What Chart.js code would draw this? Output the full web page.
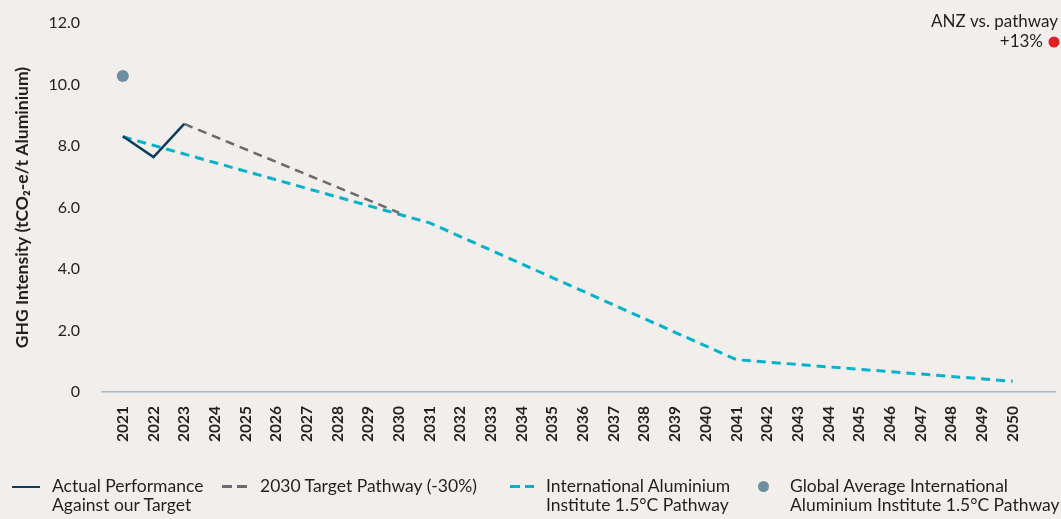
<!DOCTYPE html>
<html>
<head>
<meta charset="utf-8">
<script src="https://cdn.jsdelivr.net/npm/chart.js@4.4.1/dist/chart.umd.min.js"></script>
<style>
  html, body { margin: 0; padding: 0; background: #f1eeeb; }
  #wrap { position: relative; width: 1061px; height: 519px; overflow: hidden; font-family: Lato, "Open Sans", sans-serif; color: #231f20; }
  canvas { position: absolute; left: 0; top: 0; }
  .leg { position: absolute; top: 476px; font-size: 17.5px; line-height: 19px; white-space: nowrap; }
  .sym { position: absolute; }
</style>
</head>
<body>
<div id="wrap">
  <canvas id="c" width="1061" height="519"></canvas>
  <div class="sym" style="left:12px;top:486px;width:28px;height:2px;background:#0b3d5c"></div>
  <div class="leg" style="left:52px">Actual Performance<br>Against our Target</div>
  <div class="sym" style="left:222px;top:485px;width:10px;height:3px;background:#6b6a6e"></div>
  <div class="sym" style="left:237px;top:485px;width:10px;height:3px;background:#6b6a6e"></div>
  <div class="leg" style="left:260px">2030 Target Pathway (-30%)</div>
  <div class="sym" style="left:510px;top:485px;width:10px;height:3px;background:#00b3cb"></div>
  <div class="sym" style="left:525px;top:485px;width:9px;height:3px;background:#00b3cb"></div>
  <div class="leg" style="left:546px">International Aluminium<br>Institute 1.5°C Pathway</div>
  <div class="sym" style="left:758px;top:481px;width:11px;height:11px;border-radius:50%;background:#6e8ea1"></div>
  <div class="leg" style="left:790px">Global Average International<br>Aluminium Institute 1.5°C Pathway</div>
</div>
<script>
// ---- data ----
const years = [2021,2022,2023,2024,2025,2026,2027,2028,2029,2030,2031,2032,2033,2034,2035,2036,2037,2038,2039,2040,2041,2042,2043,2044,2045,2046,2047,2048,2049,2050];
const actualYears = [2021, 2022, 2023];
const actualValues = [8.32, 7.64, 8.72];
const targetYears = [2023, 2030];
const targetValues = [8.72, 5.83];
const iaiYears = [2021, 2031, 2041, 2050];
const iaiValues = [8.3, 5.5, 1.05, 0.35];
const globalYears = [2021];
const globalValues = [10.28];
const yTicks = [0, 2, 4, 6, 8, 10, 12];
const annotationLines = ['ANZ vs. pathway', '+13%'];

const pts = (xs, ys) => xs.map((x, i) => ({ x: x, y: ys[i] }));

const annotate = {
  id: 'annotate',
  afterDraw(chart) {
    const ctx = chart.ctx;
    ctx.save();
    ctx.font = '17px Lato, "Open Sans", sans-serif';
    ctx.fillStyle = '#231f20';
    ctx.textAlign = 'right';
    ctx.textBaseline = 'middle';
    ctx.fillText(annotationLines[0], 1058, 22);
    ctx.fillText(annotationLines[1], 1043, 42);
    ctx.beginPath();
    ctx.arc(1054, 42, 5.5, 0, Math.PI * 2);
    ctx.fillStyle = '#e31e24';
    ctx.fill();
    ctx.restore();
  }
};

new Chart(document.getElementById('c'), {
  type: 'line',
  data: {
    datasets: [
      { label: 'Actual Performance Against our Target', data: pts(actualYears, actualValues), borderColor: '#0b3d5c', borderWidth: 2.5, pointRadius: 0, tension: 0 },
      { label: '2030 Target Pathway (-30%)', data: pts(targetYears, targetValues), borderColor: '#6b6a6e', borderWidth: 2.5, borderDash: [9, 6], pointRadius: 0, tension: 0 },
      { label: 'International Aluminium Institute 1.5°C Pathway', data: pts(iaiYears, iaiValues), borderColor: '#00b3cb', borderWidth: 3, borderDash: [9, 6], pointRadius: 0, tension: 0 },
      { label: 'Global Average International Aluminium Institute 1.5°C Pathway', data: pts(globalYears, globalValues), showLine: false, pointRadius: 6, pointBackgroundColor: '#6e8ea1', pointBorderWidth: 0, borderColor: '#6e8ea1' }
    ]
  },
  options: {
    responsive: false,
    animation: false,
    layout: { padding: { top: 23, left: 0, right: 0, bottom: 0 } },
    plugins: { legend: { display: false }, tooltip: { enabled: false } },
    scales: {
      x: {
        type: 'linear',
        min: 2020.321,
        max: 2051.38,
        afterBuildTicks: (s) => { s.ticks = years.map(v => ({ value: v })); },
        afterFit: (s) => { s.height = 127; s.paddingLeft = 0; s.paddingRight = 0; },
        grid: { display: false, drawTicks: false },
        border: { display: true, color: '#a9bccb', width: 1.5 },
        ticks: {
          autoSkip: false, maxRotation: 90, minRotation: 90, padding: 14,
          color: '#231f20',
          font: { family: 'Lato, "Open Sans", sans-serif', size: 15.5, weight: 'bold' },
          callback: (v) => String(v)
        }
      },
      y: {
        min: 0, max: 12,
        afterBuildTicks: (s) => { s.ticks = yTicks.map(v => ({ value: v })); },
        afterFit: (s) => { s.width = 102; s.paddingTop = 0; s.paddingBottom = 0; },
        grid: { display: false, drawTicks: false },
        border: { display: false },
        ticks: {
          padding: 22, color: '#231f20',
          font: { family: 'Lato, "Open Sans", sans-serif', size: 16 },
          callback: (v) => v === 0 ? '0' : v.toFixed(1)
        },
        title: {
          display: true,
          text: 'GHG Intensity (tCO\u2082-e/t Aluminium)',
          color: '#231f20',
          font: { family: 'Lato, "Open Sans", sans-serif', size: 17.5, weight: 'bold' },
          padding: { top: 12, bottom: 0 }
        }
      }
    }
  },
  plugins: [annotate]
});
</script>
</body>
</html>
